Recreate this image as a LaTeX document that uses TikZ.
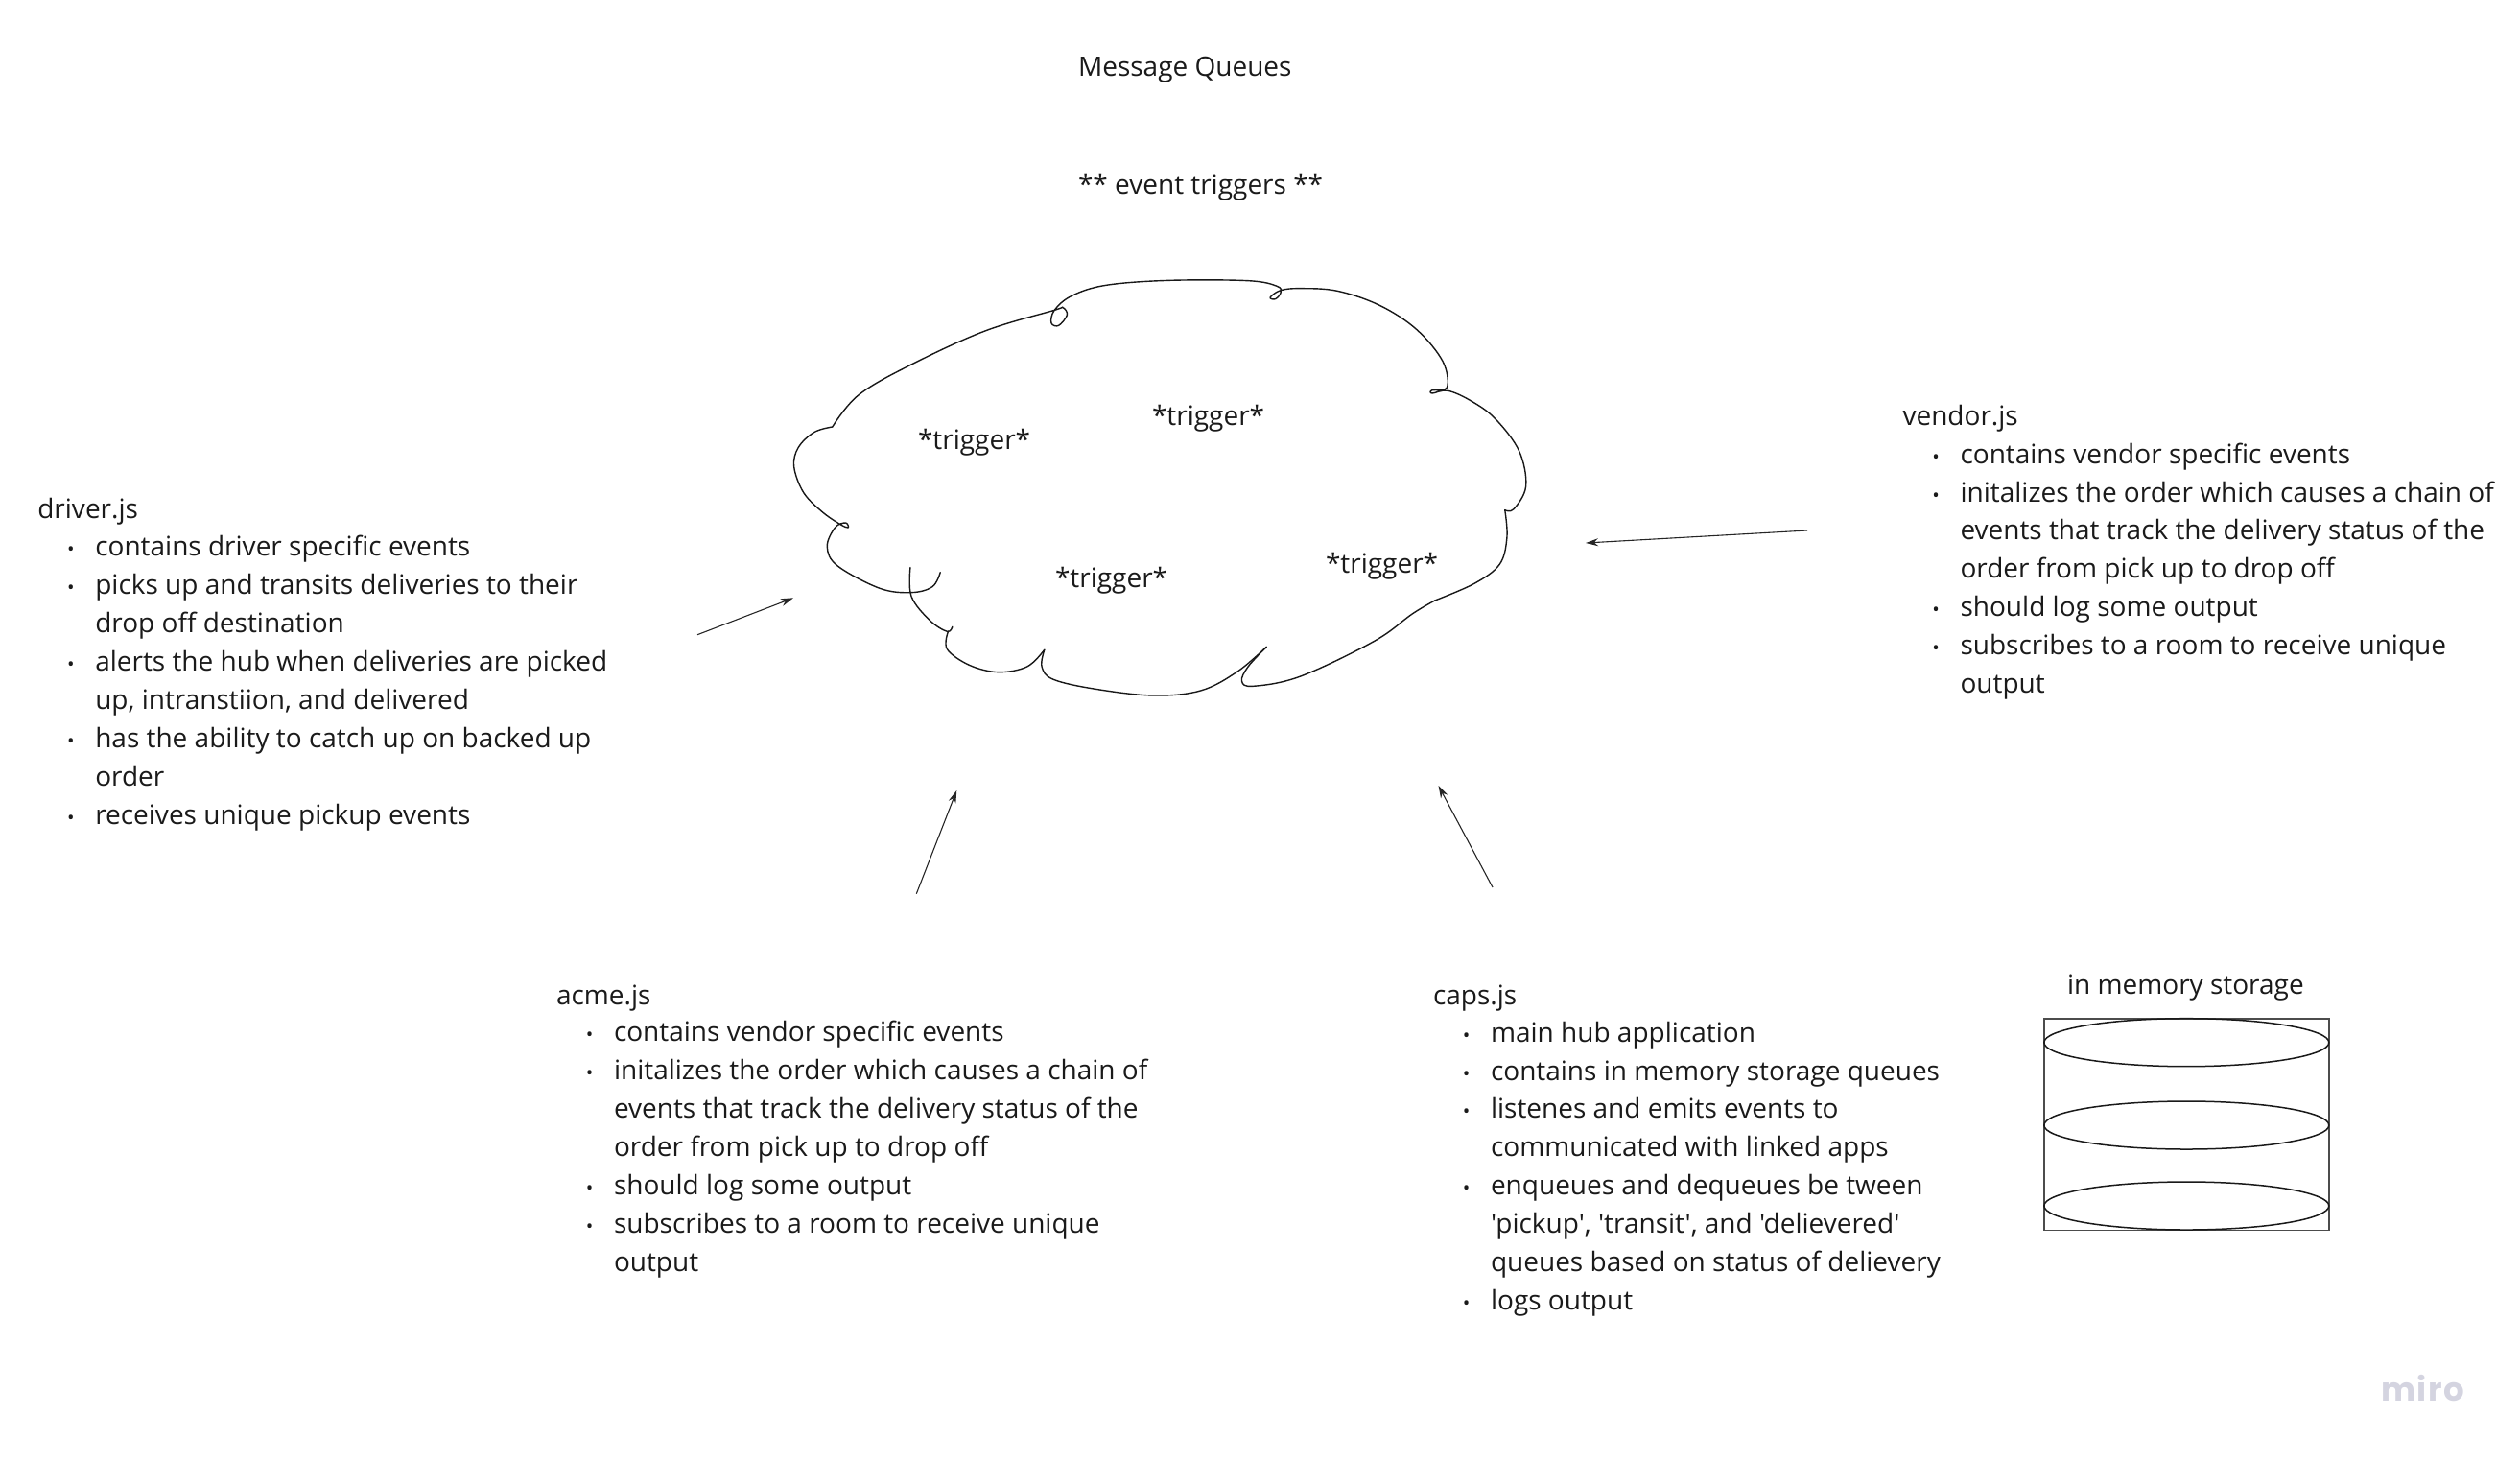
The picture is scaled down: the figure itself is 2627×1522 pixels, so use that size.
\documentclass[tikz,border=0pt]{standalone}
\usepackage{fontspec}
\usepackage{array}
\setmainfont{Open Sans}
\newfontfamily\opensans{Open Sans}
\newfontfamily\mirofont[LetterSpace=4]{Poppins}
\usetikzlibrary{arrows.meta}
\definecolor{ink}{HTML}{1A1A1A}
\definecolor{mirogrey}{HTML}{D4D4E0}
\newcommand{\bul}{\makebox[30pt][l]{\hspace{15.4pt}{\fontsize{10}{10}\selectfont •}}}
\newenvironment{blocktab}{\renewcommand{\arraystretch}{1}\begin{tabular}[t]{@{}l@{}l@{}}}{\end{tabular}}
\tikzset{
  label/.style={anchor=base west,inner sep=0pt,outer sep=0pt,text=ink,font=\opensans\fontsize{14}{19.95}\selectfont},
  sketch/.style={line width=0.7pt,black!90,line cap=round,line join=round},
  flow/.style={line width=0.55pt,black!85,-{Stealth[length=6.5pt,width=4pt]}},
  disc/.style={line width=0.75pt,black!90},
  frame/.style={line width=0.8pt,black!70}
}
\begin{document}
\begin{tikzpicture}[x=0.5pt,y=-0.5pt]
\useasboundingbox (0,0) rectangle (2627,1522);
% titles
\node[label] (title) at (1124,79) {Message Queues};
\node[label] (sub) at (1124,202) {** event triggers **};
% triggers
\node[label] (t1) at (957,468) {*trigger*};
\node[label] (t2) at (1201,443) {*trigger*};
\node[label] (t3) at (1100,612) {*trigger*};
\node[label] (t4) at (1382,597) {*trigger*};
% text blocks
\node[label] (driver) at (39.3,540) {\begin{blocktab}
\multicolumn{2}{@{}l@{}}{driver.js}\\
\bul & contains driver specific events\\
\bul & picks up and transits deliveries to their\\
 & drop off destination\\
\bul & alerts the hub when deliveries are picked\\
 & up, intranstiion, and delivered\\
\bul & has the ability to catch up on backed up\\
 & order\\
\bul & receives unique pickup events
\end{blocktab}};
\node[label] (vendor) at (1983.5,443.2) {\begin{blocktab}
\multicolumn{2}{@{}l@{}}{vendor.js}\\
\bul & contains vendor specific events\\
\bul & initalizes the order which causes a chain of\\
 & events that track the delivery status of the\\
 & order from pick up to drop off\\
\bul & should log some output\\
\bul & subscribes to a room to receive unique\\
 & output
\end{blocktab}};
\node[label] (acme) at (580,1047) {\begin{blocktab}
\multicolumn{2}{@{}l@{}}{acme.js}\\[-0.5pt]
\bul & contains vendor specific events\\
\bul & initalizes the order which causes a chain of\\
 & events that track the delivery status of the\\
 & order from pick up to drop off\\
\bul & should log some output\\
\bul & subscribes to a room to receive unique\\
 & output
\end{blocktab}};
\node[label] (caps) at (1494,1047.2) {\begin{blocktab}
\multicolumn{2}{@{}l@{}}{caps.js}\\[-0.5pt]
\bul & main hub application\\
\bul & contains in memory storage queues\\
\bul & listenes and emits events to\\
 & communicated with linked apps\\
\bul & enqueues and dequeues be tween\\
 & 'pickup', 'transit', and 'delievered'\\
 & queues based on status of delievery\\
\bul & logs output
\end{blocktab}};
\node[label] (mem) at (2155,1036) {in memory storage};
\node[anchor=base west,inner sep=0pt,text=mirogrey,font=\mirofont\bfseries\fontsize{17}{17}\selectfont] (miro) at (2482,1460) {miro};
% storage
\draw[frame] (2130.7,1061.7) rectangle (2428,1282.3);
\draw[disc] (2279.3,1086.7) ellipse [x radius=148.5,y radius=25];
\draw[disc] (2279.3,1173) ellipse [x radius=148.5,y radius=25];
\draw[disc] (2279.3,1257) ellipse [x radius=148.5,y radius=25];
% arrows
\coordinate (a1) at (727,661.7);   \coordinate (b1) at (827,623.3);
\coordinate (a2) at (1884,553);    \coordinate (b2) at (1653,566);
\coordinate (a3) at (955.3,931.7); \coordinate (b3) at (997.3,824);
\coordinate (a4) at (1556,925);    \coordinate (b4) at (1499.5,819);
\draw[flow] (a1) -- (b1);
\draw[flow] (a2) -- (b2);
\draw[flow] (a3) -- (b3);
\draw[flow] (a4) -- (b4);
% cloud, in crop coordinates
\begin{scope}[shift={(780,260)},xscale=0.5485,yscale=0.3333,sketch]
\draw plot[smooth,tension=0.6] coordinates {(308,995) (310,1085) (345,1160) (378,1195) (388,1180)};
\draw plot[smooth,tension=0.6] coordinates {(380,1195) (378,1250) (420,1300) (475,1322) (530,1305) (563,1252)};
\draw plot[smooth,tension=0.6] coordinates {(563,1252) (558,1305) (580,1345) (660,1375) (770,1395) (860,1380) (930,1320) (985,1243)};
\draw plot[smooth,tension=0.6] coordinates {(985,1243) (950,1305) (938,1350) (960,1366) (1050,1335) (1190,1225) (1262,1140) (1305,1098)};
\draw plot[smooth,tension=0.6] coordinates {(1305,1098) (1380,1045) (1428,985) (1442,900) (1438,815)};
\draw plot[smooth,tension=0.6] coordinates {(1438,815) (1455,812) (1478,740) (1465,630) (1420,530) (1375,475) (1330,442) (1300,450) (1300,440) (1328,432) (1320,350) (1270,250) (1200,175) (1120,130) (1050,122) (1012,128) (992,150) (1002,155) (1012,135) (1005,115) (950,98) (800,97) (680,112) (615,145) (582,190) (576,230) (590,238) (606,205) (598,182) (582,190) (450,255) (310,360) (210,455) (160,555)};
\draw plot[smooth,tension=0.6] coordinates {(160,555) (125,572) (95,620) (87,680) (105,760) (140,820) (175,860) (190,870) (185,855) (165,870) (150,930) (170,990) (250,1060) (310,1073) (350,1055) (365,1010)};
\end{scope}
\end{tikzpicture}
\end{document}
